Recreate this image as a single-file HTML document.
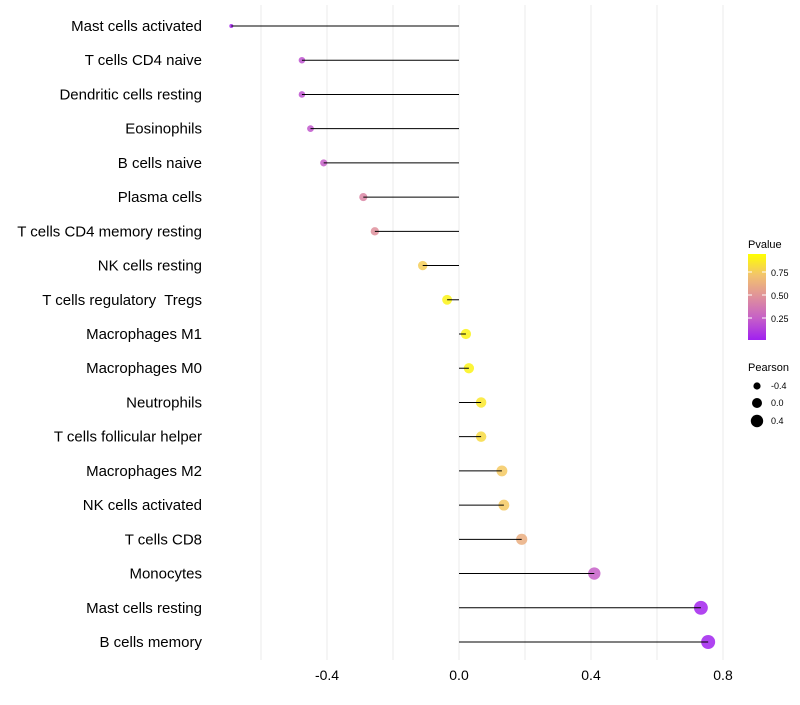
<!DOCTYPE html>
<html><head><meta charset="utf-8"><style>
body{margin:0;background:#fff;}
svg text{font-family:"Liberation Sans",sans-serif;}
#ylabels text{white-space:pre;}
</style></head><body>
<svg id="chart" width="800" height="700">
<g id="grid"></g>
<g id="marks"></g>
<g id="ylabels"></g>
<g id="xlabels"></g>
<g>
<text x="748" y="248" font-size="11">Pvalue</text>
<defs><linearGradient id="cg" x1="0" y1="1" x2="0" y2="0">
<stop offset="0" stop-color="#A020F0"/><stop offset="0.25" stop-color="#c55fc8"/><stop offset="0.5" stop-color="#df909c"/><stop offset="0.75" stop-color="#f2c26e"/><stop offset="1" stop-color="#ffff00"/></linearGradient></defs>
<rect x="748" y="254" width="18" height="86" fill="url(#cg)"/>
<line x1="748" y1="272" x2="752" y2="272" stroke="#fff"/><line x1="762" y1="272" x2="766" y2="272" stroke="#fff"/>
<line x1="748" y1="295" x2="752" y2="295" stroke="#fff"/><line x1="762" y1="295" x2="766" y2="295" stroke="#fff"/>
<line x1="748" y1="318" x2="752" y2="318" stroke="#fff"/><line x1="762" y1="318" x2="766" y2="318" stroke="#fff"/>
<text x="771" y="276" font-size="9">0.75</text>
<text x="771" y="299" font-size="9">0.50</text>
<text x="771" y="322" font-size="9">0.25</text>
</g>
<g>
<text x="748" y="371" font-size="11">Pearson</text>
<circle cx="757" cy="386" r="3.6" fill="#000"/>
<circle cx="757" cy="403" r="5" fill="#000"/>
<circle cx="757" cy="421" r="6.2" fill="#000"/>
<text x="771" y="389" font-size="9">-0.4</text>
<text x="771" y="406" font-size="9">0.0</text>
<text x="771" y="424" font-size="9">0.4</text>
</g>
</svg>
<script>
const categories=["Mast cells activated","T cells CD4 naive","Dendritic cells resting","Eosinophils","B cells naive","Plasma cells","T cells CD4 memory resting","NK cells resting","T cells regulatory  Tregs","Macrophages M1","Macrophages M0","Neutrophils","T cells follicular helper","Macrophages M2","NK cells activated","T cells CD8","Monocytes","Mast cells resting","B cells memory"];
const pearson=[-0.69,-0.476,-0.476,-0.45,-0.41,-0.29,-0.255,-0.11,-0.036,0.021,0.03,0.067,0.067,0.13,0.136,0.19,0.41,0.733,0.755];
const pvalue=[0.02,0.2,0.2,0.22,0.25,0.45,0.5,0.8,0.95,0.95,0.95,0.9,0.85,0.78,0.78,0.65,0.25,0.02,0.01];
const xTicks=[-0.4,0.0,0.4,0.8];
const xTickLabels=["-0.4","0.0","0.4","0.8"];
const gridVals=[-0.6,-0.4,-0.2,0,0.2,0.4,0.6,0.8];
const NS="http://www.w3.org/2000/svg";
const xS=v=>459+330*v;
const yS=i=>26+i*(616/(categories.length-1));
const rS=v=>Math.sqrt(Math.max(1,4+31.1*(v+0.69)));
const stops=[[0,[160,32,240]],[0.25,[197,95,200]],[0.5,[223,144,156]],[0.75,[242,194,110]],[1,[255,255,0]]];
function col(p){for(let k=0;k<stops.length-1;k++){const a=stops[k],b=stops[k+1];if(p<=b[0]){const t=(p-a[0])/(b[0]-a[0]);return "rgb("+a[1].map((c,j)=>Math.round(c+(b[1][j]-c)*t)).join(",")+")";}}return "rgb(255,255,0)";}
function mk(t,at,parent){const e=document.createElementNS(NS,t);for(const k in at)e.setAttribute(k,at[k]);parent.appendChild(e);return e;}
const grid=document.getElementById('grid'),marks=document.getElementById('marks'),yl=document.getElementById('ylabels'),xl=document.getElementById('xlabels');
gridVals.forEach(v=>{const l=mk('line',{x1:xS(v),x2:xS(v),y1:5,y2:660,stroke:'#ebebeb','stroke-width':1},grid);

});
categories.forEach((c,i)=>{
const y=yS(i);
const pt=mk('circle',{cx:xS(pearson[i]),cy:y,r:rS(pearson[i]),fill:col(pvalue[i]),'fill-opacity':0.85},marks);


const ln=mk('line',{x1:xS(0),x2:xS(pearson[i]),y1:y,y2:y,stroke:'#000','stroke-width':1},marks);


const t=mk('text',{x:202,y:y+5,'font-size':15,'text-anchor':'end',fill:'#000'},yl);t.textContent=c;


});
xTicks.forEach((v,i)=>{const t=mk('text',{x:xS(v),y:680,'font-size':14,'text-anchor':'middle',fill:'#000'},xl);t.textContent=xTickLabels[i];

});
</script>
</body></html>
